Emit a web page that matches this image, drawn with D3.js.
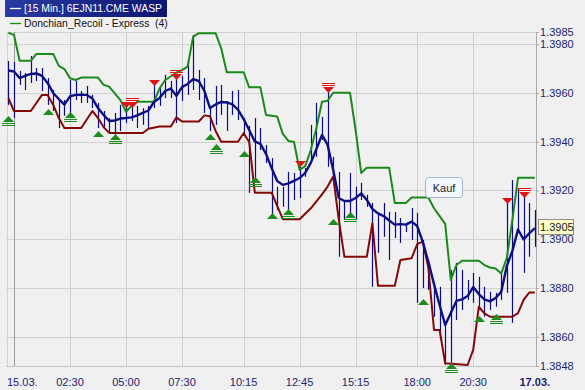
<!DOCTYPE html>
<html>
<head>
<meta charset="utf-8">
<script src="https://cdn.jsdelivr.net/npm/d3@7"></script>
<style>
  html, body { margin: 0; padding: 0; background: #f0f0f0; }
  #chart { width: 585px; height: 390px; }
  svg text { font-family: "Liberation Sans", Arial, sans-serif; font-size: 11px; }
  svg text.legend { font-size: 10.4px; white-space: pre; }
</style>
</head>
<body>
<div id="chart"></div>
<script>
// 15 min bars, index -1 .. 93
const firstBar = -1;

const highs = [
  1.39731, 1.39727, 1.39690, 1.39682, 1.39752, 1.39702, 1.39702, 1.39661, 1.39612, 1.39571,
  1.39571, 1.39653, 1.39649, 1.39608, 1.39629, 1.39592, 1.39559, 1.39526, 1.39497, 1.39518,
  1.39551, 1.39547, 1.39559, 1.39547, 1.39538, 1.39547, 1.39653, 1.39620, 1.39674, 1.39649,
  1.39674, 1.39670, 1.39735, 1.39838, 1.39694, 1.39661, 1.39538, 1.39629, 1.39633, 1.39567,
  1.39608, 1.39612, 1.39497, 1.39465, 1.39497, 1.39456, 1.39387, 1.39333, 1.39215, 1.39215,
  1.39276, 1.39272, 1.39297, 1.39292, 1.39469, 1.39559, 1.39502, 1.39604, 1.39338, 1.39276,
  1.39161, 1.39272, 1.39215, 1.39231, 1.39182, 1.39149, 1.39100, 1.39149, 1.39112, 1.39112,
  1.39087, 1.39067, 1.39128, 1.39108, 1.38997, 1.38915, 1.38805, 1.38805, 1.38649, 1.38874,
  1.38903, 1.38874, 1.38833, 1.38862, 1.38846, 1.38805, 1.38784, 1.38780, 1.38862, 1.39149,
  1.39243, 1.39210, 1.39190, 1.39149, 1.39120
];

const lows = [
  1.39551, 1.39497, 1.39633, 1.39612, 1.39641, 1.39649, 1.39608, 1.39551, 1.39526, 1.39456,
  1.39506, 1.39497, 1.39571, 1.39559, 1.39559, 1.39538, 1.39456, 1.39456, 1.39436, 1.39428,
  1.39444, 1.39477, 1.39485, 1.39456, 1.39469, 1.39456, 1.39538, 1.39547, 1.39579, 1.39579,
  1.39477, 1.39567, 1.39592, 1.39612, 1.39571, 1.39518, 1.39444, 1.39469, 1.39510, 1.39444,
  1.39510, 1.39489, 1.39428, 1.39190, 1.39239, 1.39366, 1.39313, 1.39092, 1.39120, 1.39133,
  1.39112, 1.39161, 1.39169, 1.39256, 1.39325, 1.39338, 1.39407, 1.39297, 1.39256, 1.38928,
  1.39079, 1.39092, 1.39079, 1.39161, 1.39133, 1.38805, 1.38944, 1.39010, 1.38915, 1.39005,
  1.38985, 1.39030, 1.38997, 1.38739, 1.38800, 1.38792, 1.38682, 1.38587, 1.38485, 1.38493,
  1.38669, 1.38710, 1.38751, 1.38739, 1.38723, 1.38682, 1.38710, 1.38723, 1.38751, 1.38780,
  1.38657, 1.39038, 1.38862, 1.38928, 1.38969
];

// smoothed close (blue line)
const average = [
  1.39692, 1.39688, 1.39661, 1.39670, 1.39678, 1.39680, 1.39670, 1.39641, 1.39600, 1.39575,
  1.39552, 1.39586, 1.39592, 1.39593, 1.39592, 1.39577, 1.39538, 1.39510, 1.39485, 1.39487,
  1.39495, 1.39497, 1.39500, 1.39508, 1.39518, 1.39528, 1.39563, 1.39579, 1.39608, 1.39618,
  1.39588, 1.39624, 1.39637, 1.39657, 1.39649, 1.39608, 1.39538, 1.39553, 1.39563, 1.39561,
  1.39553, 1.39532, 1.39493, 1.39448, 1.39401, 1.39391, 1.39350, 1.39292, 1.39239, 1.39223,
  1.39229, 1.39239, 1.39251, 1.39272, 1.39313, 1.39370, 1.39428, 1.39387, 1.39284, 1.39169,
  1.39157, 1.39157, 1.39169, 1.39188, 1.39161, 1.39124, 1.39106, 1.39095, 1.39077, 1.39060,
  1.39062, 1.39060, 1.39072, 1.39054, 1.38989, 1.38907, 1.38816, 1.38730, 1.38648, 1.38697,
  1.38747, 1.38753, 1.38767, 1.38804, 1.38775, 1.38753, 1.38745, 1.38759, 1.38784, 1.38890,
  1.38952, 1.39040, 1.38999, 1.39024, 1.39045
];

// Donchian upper band [bar, price]
const upperBand = [
  [-1, 1.39847], [0, 1.39838], [1, 1.39732], [3, 1.39732], [4, 1.39760], [7, 1.39760],
  [8, 1.39711], [9, 1.39698], [10, 1.39660], [11, 1.39653], [12, 1.39663], [15, 1.39663],
  [16, 1.39633], [17, 1.39626], [19, 1.39571], [20, 1.39523], [21, 1.39547], [22, 1.39564],
  [25, 1.39564], [26, 1.39619], [27, 1.39653], [29, 1.39683], [30, 1.39694], [31, 1.39708],
  [32, 1.39831], [33, 1.39845], [36, 1.39845], [37, 1.39783], [38, 1.39685], [41, 1.39685],
  [42, 1.39623], [44, 1.39623], [45, 1.39510], [47, 1.39503], [48, 1.39432], [49, 1.39403],
  [50, 1.39399], [51, 1.39284], [52, 1.39300], [53, 1.39366], [54, 1.39456], [55, 1.39564],
  [56, 1.39568], [57, 1.39601], [60, 1.39601], [61, 1.39448], [62, 1.39272], [63, 1.39293],
  [67, 1.39293], [68, 1.39149], [70, 1.39149], [71, 1.39171], [74, 1.39171], [75, 1.39127],
  [76, 1.39095], [77, 1.39063], [78, 1.38833], [79, 1.38894], [80, 1.38912], [83, 1.38912],
  [84, 1.38894], [85, 1.38884], [86, 1.38880], [87, 1.38859], [88, 1.38923], [89, 1.39079],
  [90, 1.39252], [93, 1.39252]
];

// Donchian lower band [bar, price]
const lowerBand = [
  [-1, 1.39579], [0, 1.39526], [3, 1.39526], [5, 1.39592], [6, 1.39592], [7, 1.39551],
  [8, 1.39497], [9, 1.39456], [12, 1.39456], [14, 1.39526], [15, 1.39497], [16, 1.39460],
  [17, 1.39436], [23, 1.39436], [24, 1.39453], [26, 1.39462], [28, 1.39462], [29, 1.39500],
  [30, 1.39483], [33, 1.39483], [34, 1.39508], [35, 1.39504], [36, 1.39444], [37, 1.39400],
  [40, 1.39400], [41, 1.39435], [42, 1.39399], [43, 1.39191], [46, 1.39191], [48, 1.39082],
  [51, 1.39082], [53, 1.39127], [55, 1.39184], [56, 1.39216], [57, 1.39257], [58, 1.39079],
  [59, 1.38928], [63, 1.38928], [64, 1.39065], [65, 1.38809], [68, 1.38809], [69, 1.38915],
  [71, 1.38922], [72, 1.38980], [73, 1.38990], [74, 1.38882], [75, 1.38628], [76, 1.38628],
  [77, 1.38491], [81, 1.38484], [82, 1.38546], [83, 1.38723], [84, 1.38696], [85, 1.38682],
  [89, 1.38682], [90, 1.38697], [91, 1.38751], [92, 1.38781], [93, 1.38781]
];

// [bar, price, confirmed]
const buySignals = [
  [-1, 1.39507, true], [6, 1.39535, false], [10, 1.39523, true], [15, 1.39445, false],
  [18, 1.39433, true], [35, 1.39433, false], [36, 1.39392, true], [41, 1.39362, false],
  [43, 1.39255, true], [46, 1.39106, false], [49, 1.39122, true], [57, 1.39085, false],
  [60, 1.39110, true], [73, 1.38754, false], [78, 1.38492, true], [83, 1.38685, false],
  [86, 1.38693, true]
];

const sellSignals = [
  [20, 1.39561, false], [21, 1.39561, true], [25, 1.39652, false], [29, 1.39679, true],
  [51, 1.39320, false], [56, 1.39623, true], [88, 1.39169, false], [91, 1.39193, true]
];

const timeTickBars = [0, 10, 20, 30, 41, 51, 61, 72, 82, 93];
const timeTickLabels = ["15.03.", "02:30", "05:00", "07:30", "10:15", "12:45", "15:15", "18:00", "20:30", "17.03."];
const priceTicks = [1.3985, 1.3980, 1.3960, 1.3940, 1.3920, 1.3900, 1.3880, 1.3860, 1.3848];
const lastPrice = 1.3905;
const note = { bar: 76.8, price: 1.3921, text: "Kauf" };

const legendItems = [
  { label: "[15 Min.] 6EJN11.CME WASP", color: "#ffffff", selected: true },
  { label: "Donchian_Recoil - Express  (4)", color: "#1b8a1b", selected: false },
];

const W = 585, H = 390;
const plot = { left: 6, right: 536, top: 32, bottom: 366 };
const navy = "#0c0c80";
const axisText = "#1a2470";

const svg = d3.select("#chart")
  .append("svg")
  .attr("width", W)
  .attr("height", H)
  .attr("viewBox", [0, 0, W, H]);

svg.append("rect").attr("width", W).attr("height", H).attr("fill", "#f0f0f0");

const x = d3.scaleLinear().domain([0, 93]).range([14, 534.8]);
const y = d3.scaleLinear().domain([1.3848, 1.3985]).range([plot.bottom, plot.top]);

// Grid
const grid = svg.append("g").attr("shape-rendering", "crispEdges");
grid.selectAll(".hgrid")
  .data(priceTicks)
  .join("line")
  .attr("x1", plot.left)
  .attr("x2", plot.right)
  .attr("y1", (d) => Math.round(y(d)) + 0.5)
  .attr("y2", (d) => Math.round(y(d)) + 0.5)
  .attr("stroke", "#d2d2d2");

grid.selectAll(".vgrid")
  .data(timeTickBars.slice(0, -1))
  .join("line")
  .attr("x1", (d) => Math.round(x(d)) + 0.5)
  .attr("x2", (d) => Math.round(x(d)) + 0.5)
  .attr("y1", plot.top)
  .attr("y2", plot.bottom)
  .attr("stroke", (d, i) => (i === 0 ? "#9a9a9a" : "#d2d2d2"));

grid.append("line")
  .attr("x1", plot.left + 1.5).attr("x2", plot.left + 1.5)
  .attr("y1", plot.top).attr("y2", plot.bottom)
  .attr("stroke", "#d2d2d2");

// Right axis
const yAxis = svg.append("g")
  .attr("transform", `translate(${plot.right},0)`)
  .call(d3.axisRight(y).tickValues(priceTicks).tickFormat(d3.format(".4f")).tickSize(3).tickPadding(1))
  .call((g) => g.select(".domain").attr("stroke", "#a8a8a8").attr("d", `M0.5,${plot.top}V${plot.bottom}`));
yAxis.selectAll(".tick line").attr("stroke", "#a8a8a8");
yAxis.selectAll("text")
  .attr("fill", axisText)
  .style("font-family", '"Liberation Sans", Arial, sans-serif')
  .style("font-size", "11px");

// Bottom axis
svg.append("line")
  .attr("x1", plot.left).attr("x2", plot.right)
  .attr("y1", plot.bottom + 0.5).attr("y2", plot.bottom + 0.5)
  .attr("stroke", "#c4c4c4");

svg.append("g")
  .selectAll("text")
  .data(timeTickBars)
  .join("text")
  .attr("x", (d, i) => (i === 0 ? plot.left + 1 : x(d)))
  .attr("y", 386)
  .attr("text-anchor", (d, i) => (i === 0 ? "start" : "middle"))
  .attr("fill", axisText)
  .attr("font-weight", (d, i) => (i === timeTickBars.length - 1 ? "bold" : null))
  .text((d, i) => timeTickLabels[i]);

// Price bars (high-low)
const bars = highs.map((h, i) => ({ bar: firstBar + i, high: h, low: lows[i] }));
svg.append("g")
  .selectAll("line")
  .data(bars)
  .join("line")
  .attr("x1", (d) => Math.round(x(d.bar)) + 0.5)
  .attr("x2", (d) => Math.round(x(d.bar)) + 0.5)
  .attr("y1", (d) => y(d.high))
  .attr("y2", (d) => y(d.low))
  .attr("stroke", navy)
  .attr("stroke-width", 1.2);

// Bands
const bandLine = d3.line().x((d) => x(d[0])).y((d) => y(d[1]));

svg.append("path")
  .datum(upperBand)
  .attr("fill", "none")
  .attr("stroke", "#1b8a1b")
  .attr("stroke-width", 2)
  .attr("stroke-linejoin", "round")
  .attr("d", bandLine);

svg.append("path")
  .datum(lowerBand)
  .attr("fill", "none")
  .attr("stroke", "#850808")
  .attr("stroke-width", 2)
  .attr("stroke-linejoin", "round")
  .attr("d", bandLine);

// Average
svg.append("path")
  .datum(average.map((v, i) => [firstBar + i, v]))
  .attr("fill", "none")
  .attr("stroke", "#0e0e86")
  .attr("stroke-width", 2.4)
  .attr("stroke-linejoin", "round")
  .attr("d", bandLine);

// Signals
const tri = 5.5, triH = 6;
const buys = svg.append("g").selectAll("g").data(buySignals).join("g")
  .attr("transform", (d) => `translate(${Math.round(x(d[0])) + 0.5},${Math.round(y(d[1]))})`);
buys.append("path")
  .attr("d", `M0,0L${tri},${triH}L${-tri},${triH}Z`)
  .attr("fill", "#1c8c1c");
buys.filter((d) => d[2])
  .selectAll("line")
  .data([triH + 1.5, triH + 3.5])
  .join("line")
  .attr("x1", -tri - 1).attr("x2", tri + 1)
  .attr("y1", (d) => d).attr("y2", (d) => d)
  .attr("stroke", "#1c8c1c");

const sells = svg.append("g").selectAll("g").data(sellSignals).join("g")
  .attr("transform", (d) => `translate(${Math.round(x(d[0])) + 0.5},${Math.round(y(d[1]))})`);
sells.append("path")
  .attr("d", `M${-tri},0L${tri},0L0,${triH}Z`)
  .attr("fill", "#e01414");
sells.filter((d) => d[2])
  .selectAll("line")
  .data([-1.5, -3.5])
  .join("line")
  .attr("x1", -tri - 1).attr("x2", tri + 1)
  .attr("y1", (d) => d).attr("y2", (d) => d)
  .attr("stroke", "#e01414");

// Note
const noteG = svg.append("g")
  .attr("transform", `translate(${x(note.bar)},${y(note.price)})`);
noteG.append("rect")
  .attr("x", -18.5).attr("y", -10.5)
  .attr("width", 37).attr("height", 20)
  .attr("rx", 3)
  .attr("fill", "#f4f7fc")
  .attr("stroke", "#9fb6d8");
noteG.append("text")
  .attr("text-anchor", "middle")
  .attr("dy", "0.35em")
  .attr("fill", "#222")
  .text(note.text);

// Last price box
const lp = svg.append("g")
  .attr("transform", `translate(${plot.right + 2},${Math.round(y(lastPrice))})`);
lp.append("rect")
  .attr("x", 0.5).attr("y", -7.5)
  .attr("width", 35).attr("height", 15)
  .attr("fill", "#ffffc8")
  .attr("stroke", "#8c8c8c");
lp.append("text")
  .attr("x", 2)
  .attr("dy", "0.35em")
  .attr("fill", "#1a1a1a")
  .text(d3.format(".4f")(lastPrice));

// Legend
const defs = svg.append("defs");
const grad = defs.append("linearGradient").attr("id", "sel");
grad.append("stop").attr("offset", "0%").attr("stop-color", "#2b3ba4");
grad.append("stop").attr("offset", "100%").attr("stop-color", "#0b1470");

svg.append("rect")
  .attr("x", 5).attr("y", 0)
  .attr("width", 162).attr("height", 17)
  .attr("fill", "url(#sel)");

const legend = svg.append("g").selectAll("g").data(legendItems).join("g")
  .attr("transform", (d, i) => `translate(10,${8.5 + i * 15})`);
legend.append("line")
  .attr("x1", 0).attr("x2", 11)
  .attr("stroke", (d) => d.color)
  .attr("stroke-width", 1.3);
legend.append("text")
  .attr("class", "legend")
  .attr("x", 14)
  .attr("dy", "0.35em")
  .attr("fill", (d) => (d.selected ? "#ffffff" : "#111"))
  .text((d) => d.label);
</script>
</body>
</html>
